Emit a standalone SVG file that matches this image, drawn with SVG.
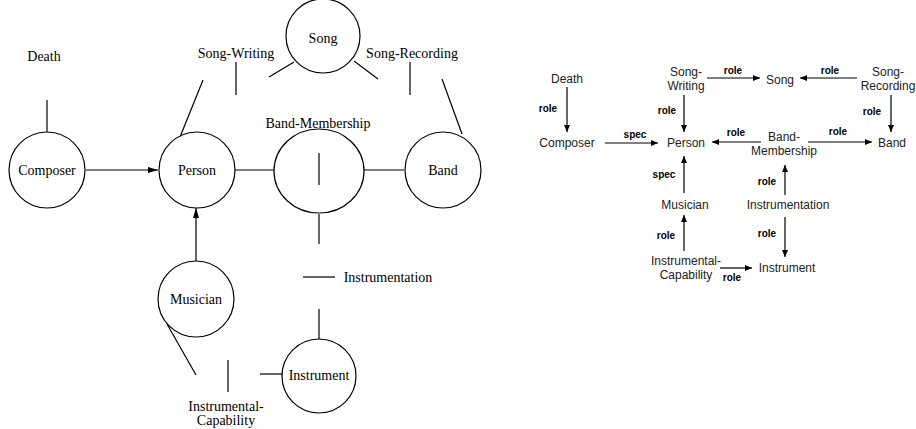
<svg xmlns="http://www.w3.org/2000/svg" width="916" height="429" viewBox="0 0 916 429">
<defs>
<marker id="ah" markerWidth="10" markerHeight="6" refX="10" refY="3" orient="auto" markerUnits="userSpaceOnUse"><path d="M0,0 L10,3 L0,6 Z" fill="#000"/></marker>
<marker id="as" markerWidth="7" markerHeight="6" refX="7" refY="3" orient="auto" markerUnits="userSpaceOnUse"><path d="M0,0 L7,3 L0,6 Z" fill="#000"/></marker>
</defs>
<style>
.n{fill:#fff;stroke:#000;stroke-width:1.2}
.l{stroke:#000;stroke-width:1.2;fill:none}
.t{font-family:"Liberation Serif",serif;font-size:14px;fill:#000;text-anchor:middle;dominant-baseline:central}
.s{font-family:"Liberation Sans",Arial,sans-serif;font-size:12px;fill:#222;text-anchor:middle;dominant-baseline:central}
.r{font-family:"Liberation Sans",Arial,sans-serif;font-size:10px;font-weight:bold;fill:#000;text-anchor:middle;dominant-baseline:central}
.a{stroke:#000;stroke-width:1.2;fill:none;marker-end:url(#as)}
</style>
<g id="connectors">
<line class="l" x1="47" y1="100" x2="47" y2="132"/>
<line class="l" x1="86" y1="170" x2="158" y2="170" marker-end="url(#ah)"/>
<line class="l" x1="236" y1="62" x2="236" y2="95"/>
<line class="l" x1="203" y1="80" x2="180" y2="137"/>
<line class="l" x1="269" y1="77" x2="294" y2="62"/>
<line class="l" x1="378" y1="79" x2="354" y2="61"/>
<line class="l" x1="410" y1="62" x2="410" y2="95"/>
<line class="l" x1="442" y1="79" x2="462" y2="134"/>
<line class="l" x1="235" y1="170" x2="286" y2="170"/>
<line class="l" x1="351" y1="170" x2="404" y2="170"/>
<line class="l" x1="196" y1="262" x2="196" y2="208" marker-end="url(#ah)"/>
<line class="l" x1="319" y1="214" x2="319" y2="244"/>
<line class="l" x1="303" y1="277" x2="335" y2="277"/>
<line class="l" x1="319" y1="309" x2="319" y2="339"/>
<line class="l" x1="167" y1="324" x2="196" y2="375"/>
<line class="l" x1="228" y1="360" x2="228" y2="392"/>
<line class="l" x1="260" y1="374" x2="282" y2="374"/>

<line class="a" x1="567" y1="87" x2="567" y2="132"/>
<line class="a" x1="605" y1="143" x2="658" y2="143"/>
<line class="a" x1="684" y1="95" x2="684" y2="132"/>
<line class="a" x1="707" y1="78" x2="760" y2="78"/>
<line class="a" x1="857" y1="78" x2="800" y2="78"/>
<line class="a" x1="891" y1="95" x2="891" y2="132"/>
<line class="a" x1="761" y1="142" x2="712" y2="142"/>
<line class="a" x1="808" y1="142" x2="872" y2="142"/>
<line class="a" x1="684" y1="193" x2="684" y2="156"/>
<line class="a" x1="785" y1="195" x2="785" y2="165"/>
<line class="a" x1="785" y1="217" x2="785" y2="257"/>
<line class="a" x1="684" y1="251" x2="684" y2="215"/>
<line class="a" x1="720" y1="268" x2="752" y2="268"/>
<text class="r" x="548" y="108">role</text>
<text class="r" x="635" y="134">spec</text>
<text class="r" x="667" y="110">role</text>
<text class="r" x="733" y="70">role</text>
<text class="r" x="830" y="70">role</text>
<text class="r" x="872" y="111">role</text>
<text class="r" x="736" y="132">role</text>
<text class="r" x="838" y="131">role</text>
<text class="r" x="664" y="174">spec</text>
<text class="r" x="767" y="181">role</text>
<text class="r" x="767" y="233">role</text>
<text class="r" x="666" y="235">role</text>
<text class="r" x="732" y="277">role</text>
</g>
<g id="left-death"><text class="t" x="44" y="56">Death</text></g>
<g id="left-song"><circle class="n" cx="323" cy="36" r="37"/><text class="t" x="323" y="38">Song</text></g>
<g id="left-song-writing"><text class="t" x="236" y="53">Song-Writing</text></g>
<g id="left-song-recording"><text class="t" x="412" y="53">Song-Recording</text></g>
<g id="left-composer"><circle class="n" cx="47" cy="170" r="38"/><text class="t" x="47" y="170">Composer</text></g>
<g id="left-person"><circle class="n" cx="197" cy="170" r="38"/><text class="t" x="197" y="170">Person</text></g>
<g id="left-band-membership"><text class="t" x="318" y="123">Band-Membership</text><ellipse class="n" cx="319" cy="171" rx="45" ry="42"/><line class="l" x1="319" y1="153" x2="319" y2="185"/></g>
<g id="left-band"><circle class="n" cx="443" cy="170" r="38"/><text class="t" x="443" y="170">Band</text></g>
<g id="left-musician"><circle class="n" cx="196" cy="299" r="38"/><text class="t" x="196" y="299">Musician</text></g>
<g id="left-instrumentation"><text class="t" x="388" y="277">Instrumentation</text></g>
<g id="left-instrument"><circle class="n" cx="319" cy="376" r="37"/><text class="t" x="319" y="375">Instrument</text></g>
<g id="left-instrumental-capability"><text class="t" x="226" y="406">Instrumental-</text><text class="t" x="226" y="420">Capability</text></g>

<g id="r-death"><text class="s" x="567" y="79">Death</text></g>
<g id="r-composer"><text class="s" x="567" y="143">Composer</text></g>
<g id="r-person"><text class="s" x="686" y="143">Person</text></g>
<g id="r-song-writing"><text class="s" x="686" y="72">Song-</text><text class="s" x="686" y="86">Writing</text></g>
<g id="r-song"><text class="s" x="780" y="80">Song</text></g>
<g id="r-song-recording"><text class="s" x="888" y="72">Song-</text><text class="s" x="888" y="86">Recording</text></g>
<g id="r-band"><text class="s" x="892" y="143">Band</text></g>
<g id="r-band-membership"><text class="s" x="784" y="137">Band-</text><text class="s" x="784" y="151">Membership</text></g>
<g id="r-musician"><text class="s" x="685" y="205">Musician</text></g>
<g id="r-instrumentation"><text class="s" x="788" y="205">Instrumentation</text></g>
<g id="r-instrument"><text class="s" x="787" y="268">Instrument</text></g>
<g id="r-instrumental-capability"><text class="s" x="686" y="261">Instrumental-</text><text class="s" x="686" y="275">Capability</text></g>
</svg>
